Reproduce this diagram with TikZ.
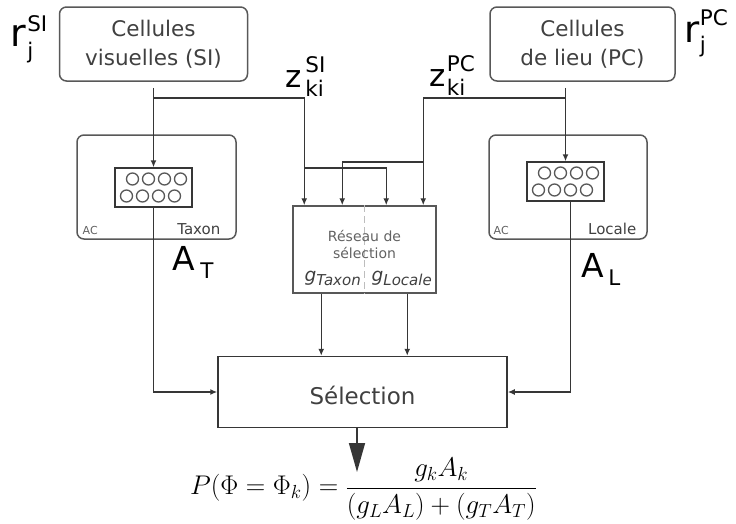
\RequirePackage{fix-cm}
\documentclass[tikz,border=0pt]{standalone}
\usepackage{fontspec}
\setmainfont{DejaVu Sans}
\usetikzlibrary{arrows.meta,calc}
\definecolor{ln}{HTML}{363636}
\definecolor{bd}{HTML}{585858}
\definecolor{tx}{HTML}{404040}
\definecolor{lt}{HTML}{626262}
\definecolor{dl}{HTML}{BDBDBD}
\newcommand\fs[1]{\fontsize{#1}{#1}\selectfont}
\newcommand\scrlab[7]{{\fs{#2}#1}\kern#3\rlap{\raisebox{#5}{\fs{21.5}#4}}\raisebox{-#7}{\fs{21.5}#6}}
\begin{document}
\begin{tikzpicture}[x=1pt,y=-1pt,line width=1.4pt,
  arr/.style={draw=ln,line width=1.4pt,-{Latex[length=7pt,width=6pt]}},
  rbox/.style={draw=bd,rounded corners=7pt,line width=1.5pt,inner sep=0pt},
  cellbox/.style={rbox,minimum width=188pt,minimum height=74pt,align=center,text=tx,font={\fontsize{21.5}{29}\selectfont}},
  acbox/.style={rbox,minimum width=158pt,minimum height=104pt},
  inbox/.style={draw=ln,line width=1.4pt,minimum width=77pt,minimum height=39pt,inner sep=0pt},
  cell/.style={draw=bd,line width=1.3pt},
  small/.style={inner sep=0pt,font=\fs{11},text=lt},
  tag/.style={inner sep=0pt,font=\fs{15},text=tx},
  lab/.style={inner sep=0pt,anchor=base west,text=black}]
\useasboundingbox (0,0) rectangle (736,523);

% top boxes
\node[cellbox] (si) at (153.5,44) {Cellules\\visuelles (SI)};
\node[cellbox,minimum width=185pt] (pc) at (582.5,44) {Cellules\\de lieu (PC)};

% labels r and z
\node[lab] (rsi) at (10,46) {\scrlab{r}{38}{1pt}{SI}{15pt}{j}{12.5pt}};
\node[lab] (rpc) at (683.5,42) {\scrlab{r}{37}{0.5pt}{PC}{17pt}{j}{10pt}};
\node[lab] (zsi) at (285,87) {\scrlab{z}{31}{3.5pt}{SI}{15pt}{ki}{9pt}};
\node[lab] (zpc) at (429,86) {\scrlab{z}{31}{1pt}{PC}{15pt}{ki}{9pt}};

% AC boxes
\node[acbox,minimum width=159pt] (taxbox) at (156.5,187) {};
\node[inbox] (taxin) at (153.5,187.5) {};
\foreach \dx in {-21,-5,11,27} \draw[cell] ($(taxin.center)+(\dx,-8.5)$) circle (6pt);
\foreach \dx in {-27,-11,5,21} \draw[cell] ($(taxin.center)+(\dx,8.5)$) circle (6pt);
\node[small,anchor=base west] (ac1) at (82,234) {AC};
\node[tag,anchor=base east] (taxlab) at (221,234) {Taxon};

\node[acbox] (locbox) at (568,187) {};
\node[inbox] (locin) at (565.5,181.5) {};
\foreach \dx in {-21,-5,11,27} \draw[cell] ($(locin.center)+(\dx,-8.5)$) circle (6pt);
\foreach \dx in {-27,-11,5,21} \draw[cell] ($(locin.center)+(\dx,8.5)$) circle (6pt);
\node[small,anchor=base west] (ac2) at (493,234) {AC};
\node[tag,anchor=base east] (loclab) at (637,234) {Locale};

\node[lab] (at) at (172,270) {\scrlab{A}{33}{5pt}{}{0pt}{T}{8pt}};
\node[lab] (al) at (581,277) {\scrlab{A}{33}{4pt}{}{0pt}{L}{8pt}};

% selection network
\node[draw=bd,line width=1.5pt,minimum width=143pt,minimum height=87pt,inner sep=0pt] (reseau) at (364.5,249.5) {};
\draw[dl,line width=1pt,dash pattern=on 7pt off 4pt] (reseau.north) -- (reseau.south);
\node[align=center,text=lt,inner sep=0pt,font={\fontsize{14}{17}\selectfont}] (restxt) at (364.5,244) {Réseau de\\sélection};
\node[lab,text=tx] (gtax) at (304,281) {\fs{18.5}\itshape g\raisebox{-4pt}{\fs{15}Taxon}};
\node[lab,text=tx] (gloc) at (371,281) {\fs{18.5}\itshape g\raisebox{-4pt}{\fs{15}Locale}};

% Selection box
\node[draw=ln,line width=1.5pt,minimum width=289pt,minimum height=71pt,inner sep=0pt,font=\fs{23},text=tx,text height=24pt,text depth=0pt] (sel) at (362.5,392) {Sélection};

% connectors
\coordinate (b1) at (153.5,98);
\coordinate (c1) at (305,168);
\coordinate (b2) at (565.5,98);
\coordinate (c2) at (424,162);
\draw[arr,shorten <=6pt] (si.south) -- (taxin.north);
\draw[arr] (b1) -| ([xshift=12pt]reseau.north west);
\draw[arr] (c1) -| ([xshift=94pt]reseau.north west);
\draw[arr,shorten <=6pt] (pc.south -| locin.north) -- (locin.north);
\draw[arr] (b2) -| ([xshift=131pt]reseau.north west);
\draw[arr] (c2) -| ([xshift=50pt]reseau.north west);
\draw[arr] (taxin.south) |- (sel.west);
\draw[arr] ([xshift=5pt]locin.south) |- (sel.east);
\draw[arr] ([xshift=29pt]reseau.south west) -- ([xshift=29pt]reseau.south west |- sel.north);
\draw[arr] ([xshift=115pt]reseau.south west) -- ([xshift=115pt]reseau.south west |- sel.north);

% output
\coordinate (tip) at (357,472);
\draw[ln,line width=1.6pt,-{Triangle[length=29pt,width=16pt]}] ([xshift=-5.5pt]sel.south) -- (tip);
\node[inner sep=0pt] (form) at (363.5,489) {\fs{27}$\displaystyle P(\Phi=\Phi_k)=\frac{g_kA_k}{(g_LA_L)+(g_TA_T)}$};
\end{tikzpicture}
\end{document}
